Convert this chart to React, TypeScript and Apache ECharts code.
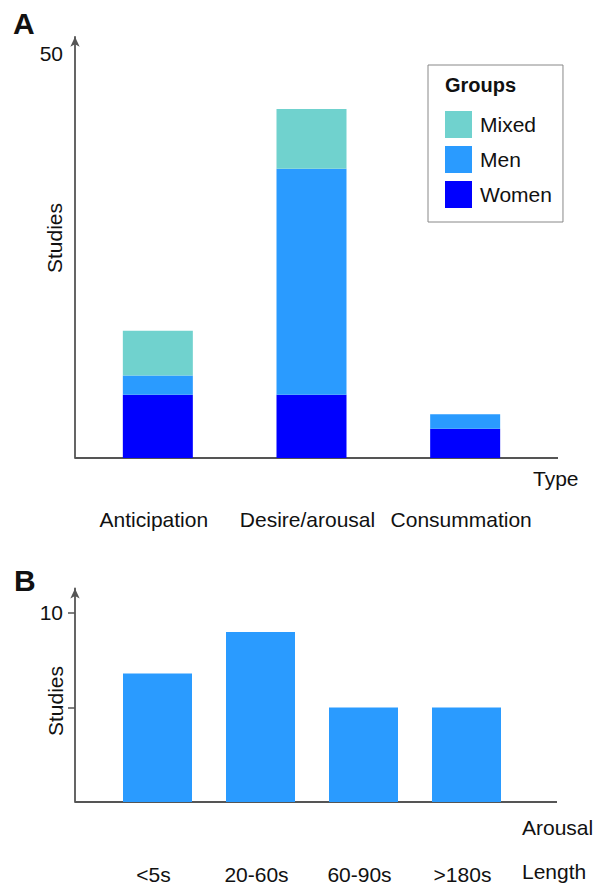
import React, { useEffect, useRef } from "react";
import * as echarts from "echarts";

const typeCategories = ["Anticipation", "Desire/arousal", "Consummation"];
const womenStudies = [7.8, 7.8, 3.6];
const menStudies = [2.4, 27.9, 1.8];
const mixedStudies = [5.5, 7.4, 0];
const typeTickLabels = [50];

const lengthCategories = ["<5s", "20-60s", "60-90s", ">180s"];
const lengthStudies = [6.8, 9, 5, 5];
const lengthTickLabels = [10];
const lengthTicks = [5, 10];

const FONT = "'Liberation Sans', Arial, Helvetica, sans-serif";
const AXIS = "#555";
const C_WOMEN = "#0000FF";
const C_MEN = "#2A9BFF";
const C_MIXED = "#70D2CE";

export default function App() {
  const ref = useRef<HTMLDivElement>(null);
  useEffect(() => {
    if (!ref.current) return;
    const chart = echarts.init(ref.current, null, { renderer: "svg" });
    const axisLine = {
      show: true,
      symbol: ["none", "arrow"],
      symbolSize: [7, 10],
      lineStyle: { color: AXIS, width: 1.8 },
    };
    const txt = (text: string, x: number, y: number, size = 21, extra: any = {}) => ({
      type: "text",
      x,
      y,
      style: {
        text,
        fontFamily: FONT,
        fontSize: size,
        fill: "#111",
        textAlign: "left",
        textVerticalAlign: "middle",
        ...extra.style,
      },
      ...extra.el,
    });
    chart.setOption({
      animation: false,
      backgroundColor: "#fff",
      textStyle: { fontFamily: FONT },
      grid: [
        { left: 81, right: 59, top: 36.8, bottom: 427 },
        { left: 106, right: 83, top: 588.4, bottom: 83 },
      ],
      xAxis: [
        {
          type: "category",
          gridIndex: 0,
          data: typeCategories,
          axisLine: { show: false },
          axisTick: { show: false },
          axisLabel: { interval: 0, hideOverlap: false, fontSize: 21, color: "#111", margin: 51, padding: [0, 8, 0, 0], fontFamily: FONT },
        },
        {
          type: "category",
          gridIndex: 1,
          data: lengthCategories,
          axisLine: { show: false },
          axisTick: { show: false },
          axisLabel: { interval: 0, hideOverlap: false, fontSize: 21, color: "#111", margin: 62, padding: [0, 8, 0, 0], fontFamily: FONT },
        },
      ],
      yAxis: [
        {
          type: "value",
          gridIndex: 0,
          min: 0,
          max: 52,
          offset: 6,
          splitLine: { show: false },
          axisLine,
          axisTick: { show: false },
          axisLabel: { customValues: typeTickLabels, fontSize: 21, color: "#111", margin: 12, fontFamily: FONT },
        },
        {
          type: "value",
          gridIndex: 1,
          min: 0,
          max: 11.3,
          offset: 31,
          splitLine: { show: false },
          axisLine,
          axisTick: { show: true, customValues: lengthTicks, length: 7, lineStyle: { color: AXIS, width: 1.5 } },
          axisLabel: { customValues: lengthTickLabels, fontSize: 21, color: "#111", margin: 12, fontFamily: FONT },
        },
      ],
      legend: {
        data: ["Mixed", "Men", "Women"],
        orient: "vertical",
        left: 428,
        top: 65,
        padding: [46, 11, 14, 17],
        itemWidth: 27,
        itemHeight: 27,
        itemGap: 8,
        icon: "rect",
        selectedMode: false,
        borderColor: "#888",
        borderWidth: 1,
        textStyle: { fontSize: 21, color: "#111", fontFamily: FONT, padding: [0, 0, 0, 3] },
      },
      series: [
        { name: "Women", type: "bar", stack: "a", xAxisIndex: 0, yAxisIndex: 0, data: womenStudies, barWidth: 70, itemStyle: { color: C_WOMEN } },
        { name: "Men", type: "bar", stack: "a", xAxisIndex: 0, yAxisIndex: 0, data: menStudies, barWidth: 70, itemStyle: { color: C_MEN } },
        { name: "Mixed", type: "bar", stack: "a", xAxisIndex: 0, yAxisIndex: 0, data: mixedStudies, barWidth: 70, itemStyle: { color: C_MIXED } },
        { name: "Arousal length", type: "bar", xAxisIndex: 1, yAxisIndex: 1, data: lengthStudies, barWidth: 69, itemStyle: { color: C_MEN } },
      ],
      graphic: [
        { type: "line", shape: { x1: 75, y1: 458, x2: 558, y2: 458 }, style: { stroke: AXIS, lineWidth: 1.8 } },
        { type: "line", shape: { x1: 75, y1: 802, x2: 557, y2: 802 }, style: { stroke: AXIS, lineWidth: 1.8 } },
        txt("A", 13, 23, 30, { style: { fontWeight: "bold" } }),
        txt("B", 14, 580, 30, { style: { fontWeight: "bold" } }),
        txt("Groups", 445, 85, 20, { style: { fontWeight: "bold" } }),
        txt("Type", 533, 478),
        txt("Arousal", 522, 827),
        txt("Length", 522, 871),
        txt("Studies", 54, 238, 21, { style: { textAlign: "center" }, el: { rotation: Math.PI / 2 } }),
        txt("Studies", 55, 701, 21, { style: { textAlign: "center" }, el: { rotation: Math.PI / 2 } }),
      ],
    });
    return () => chart.dispose();
  }, []);
  return (
    <div
      ref={ref}
      style={{ position: "absolute", left: 0, top: 0, width: 601, height: 885, background: "#fff" }}
    />
  );
}
